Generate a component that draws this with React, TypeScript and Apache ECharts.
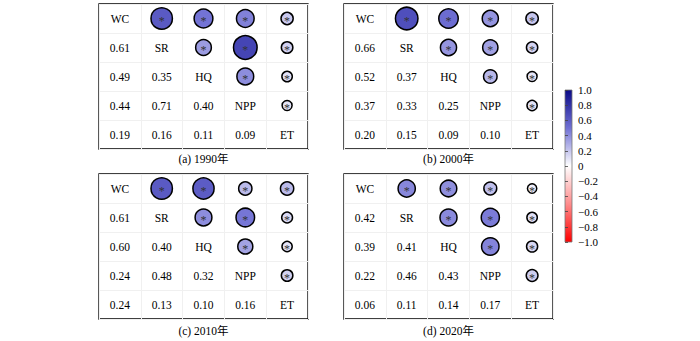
import React, { useEffect, useRef } from "react";
import * as echarts from "echarts";

const variables = ["WC", "SR", "HQ", "NPP", "ET"];
const panelLabels = ["(a) 1990年", "(b) 2000年", "(c) 2010年", "(d) 2020年"];
// lower-triangle correlations: row i (1..4) holds r(i, j) for j < i
const corr1990 = [[0.61], [0.49, 0.35], [0.44, 0.71, 0.4], [0.19, 0.16, 0.11, 0.09]];
const corr2000 = [[0.66], [0.52, 0.37], [0.37, 0.33, 0.25], [0.2, 0.15, 0.09, 0.1]];
const corr2010 = [[0.61], [0.6, 0.4], [0.24, 0.48, 0.32], [0.24, 0.13, 0.1, 0.16]];
const corr2020 = [[0.42], [0.39, 0.41], [0.22, 0.46, 0.43], [0.06, 0.11, 0.14, 0.17]];
const panels = [corr1990, corr2000, corr2010, corr2020];
const colorbarTicks = [-1, -0.8, -0.6, -0.4, -0.2, 0, 0.2, 0.4, 0.6, 0.8, 1];
const cmap = ["#ff0000", "#ff8c8c", "#ffffff", "#7070d4", "#0a0a88"];

const FONT = "'Liberation Serif', 'Times New Roman', 'Noto Sans CJK SC', serif";

export default function App() {
  const ref = useRef<HTMLDivElement>(null);
  useEffect(() => {
    document.body.style.margin = "0";
    const chart = echarts.init(ref.current!, null, { renderer: "svg" });
    const lefts = [99, 344, 99, 344];
    const tops = [4, 4, 174, 174];
    const W = 209;
    const H = 145;
    const grids: any[] = [];
    const xAxes: any[] = [];
    const yAxes: any[] = [];
    const series: any[] = [];
    const circleSeries: number[] = [];
    const graphics: any[] = [];
    panels.forEach((m, p) => {
      grids.push({
        left: lefts[p],
        top: tops[p],
        width: W,
        height: H,
        show: true,
        borderColor: "#000",
        borderWidth: 1.3,
        backgroundColor: "#fff",
      });
      xAxes.push({
        type: "category",
        gridIndex: p,
        data: variables,
        axisLine: { show: false },
        axisTick: { show: false },
        axisLabel: { show: false },
        splitLine: { show: true, lineStyle: { color: "#f0f0f0", width: 1 } },
      });
      yAxes.push({
        type: "category",
        gridIndex: p,
        data: variables,
        inverse: true,
        axisLine: { show: false },
        axisTick: { show: false },
        axisLabel: { show: false },
        splitLine: { show: true, lineStyle: { color: "#f0f0f0", width: 1 } },
      });
      const textData: any[] = [];
      const circleData: any[] = [];
      variables.forEach((v, i) => textData.push([i, i, v]));
      m.forEach((row, k) => {
        const i = k + 1;
        row.forEach((val, j) => {
          textData.push([j, i, val.toFixed(2)]);
          circleData.push([i, j, val]);
        });
      });
      series.push({
        type: "scatter",
        xAxisIndex: p,
        yAxisIndex: p,
        symbolSize: 0,
        data: textData,
        silent: true,
        itemStyle: { opacity: 1 },
        label: {
          show: true,
          position: "inside",
          formatter: (d: any) => String(d.value[2]),
          fontFamily: FONT,
          fontSize: 11.5,
          color: "#000",
          opacity: 1,
          textBorderWidth: 0,
        },
      });
      circleSeries.push(series.length);
      series.push({
        type: "scatter",
        xAxisIndex: p,
        yAxisIndex: p,
        data: circleData,
        symbolSize: (d: any) => 8 + 22 * Math.abs(d[2]),
        itemStyle: { borderColor: "#000", borderWidth: 1.5, opacity: 1 },
        label: {
          show: true,
          position: "inside",
          formatter: "*",
          fontFamily: FONT,
          fontSize: 12,
          color: "#333",
          opacity: 1,
          textBorderWidth: 0,
          offset: [0, 2],
        },
      });
      graphics.push({
        type: "text",
        x: lefts[p] + W / 2,
        y: tops[p] + H + 10 + (p >= 2 ? 2 : 0),
        style: {
          text: panelLabels[p],
          fontFamily: FONT,
          fontSize: 11.5,
          fill: "#000",
          align: "center",
          verticalAlign: "middle",
        },
      });
    });
    // colorbar grid
    grids.push({
      left: 565,
      top: 90,
      width: 7,
      height: 152,
      show: true,
      borderColor: "#777",
      borderWidth: 0.8,
      backgroundColor: new echarts.graphic.LinearGradient(0, 0, 0, 1, [
        { offset: 0, color: cmap[4] },
        { offset: 0.25, color: cmap[3] },
        { offset: 0.5, color: cmap[2] },
        { offset: 0.75, color: cmap[1] },
        { offset: 1, color: cmap[0] },
      ]),
    });
    xAxes.push({ type: "value", gridIndex: 4, show: false, min: 0, max: 1 });
    yAxes.push({
      type: "value",
      gridIndex: 4,
      position: "right",
      min: colorbarTicks[0],
      max: colorbarTicks[colorbarTicks.length - 1],
      interval: 0.2,
      axisLine: { show: false },
      axisTick: { show: true, length: 3, lineStyle: { color: "#444", width: 0.8 } },
      splitLine: { show: false },
      axisLabel: {
        fontFamily: FONT,
        fontSize: 11,
        color: "#000",
        margin: 6,
        formatter: (v: number) =>
          Math.abs(v) < 1e-9 ? "0" : v.toFixed(1).replace("-", "\u2212"),
      },
    });
    series.push({ type: "scatter", xAxisIndex: 4, yAxisIndex: 4, data: [] });

    chart.setOption({
      animation: false,
      backgroundColor: "#fff",
      grid: grids,
      xAxis: xAxes,
      yAxis: yAxes,
      visualMap: {
        show: false,
        type: "continuous",
        min: -1,
        max: 1,
        dimension: 2,
        seriesIndex: circleSeries,
        inRange: { color: cmap },
      },
      series,
      graphic: graphics,
    });
    return () => chart.dispose();
  }, []);
  return <div ref={ref} style={{ width: 700, height: 341 }} />;
}
